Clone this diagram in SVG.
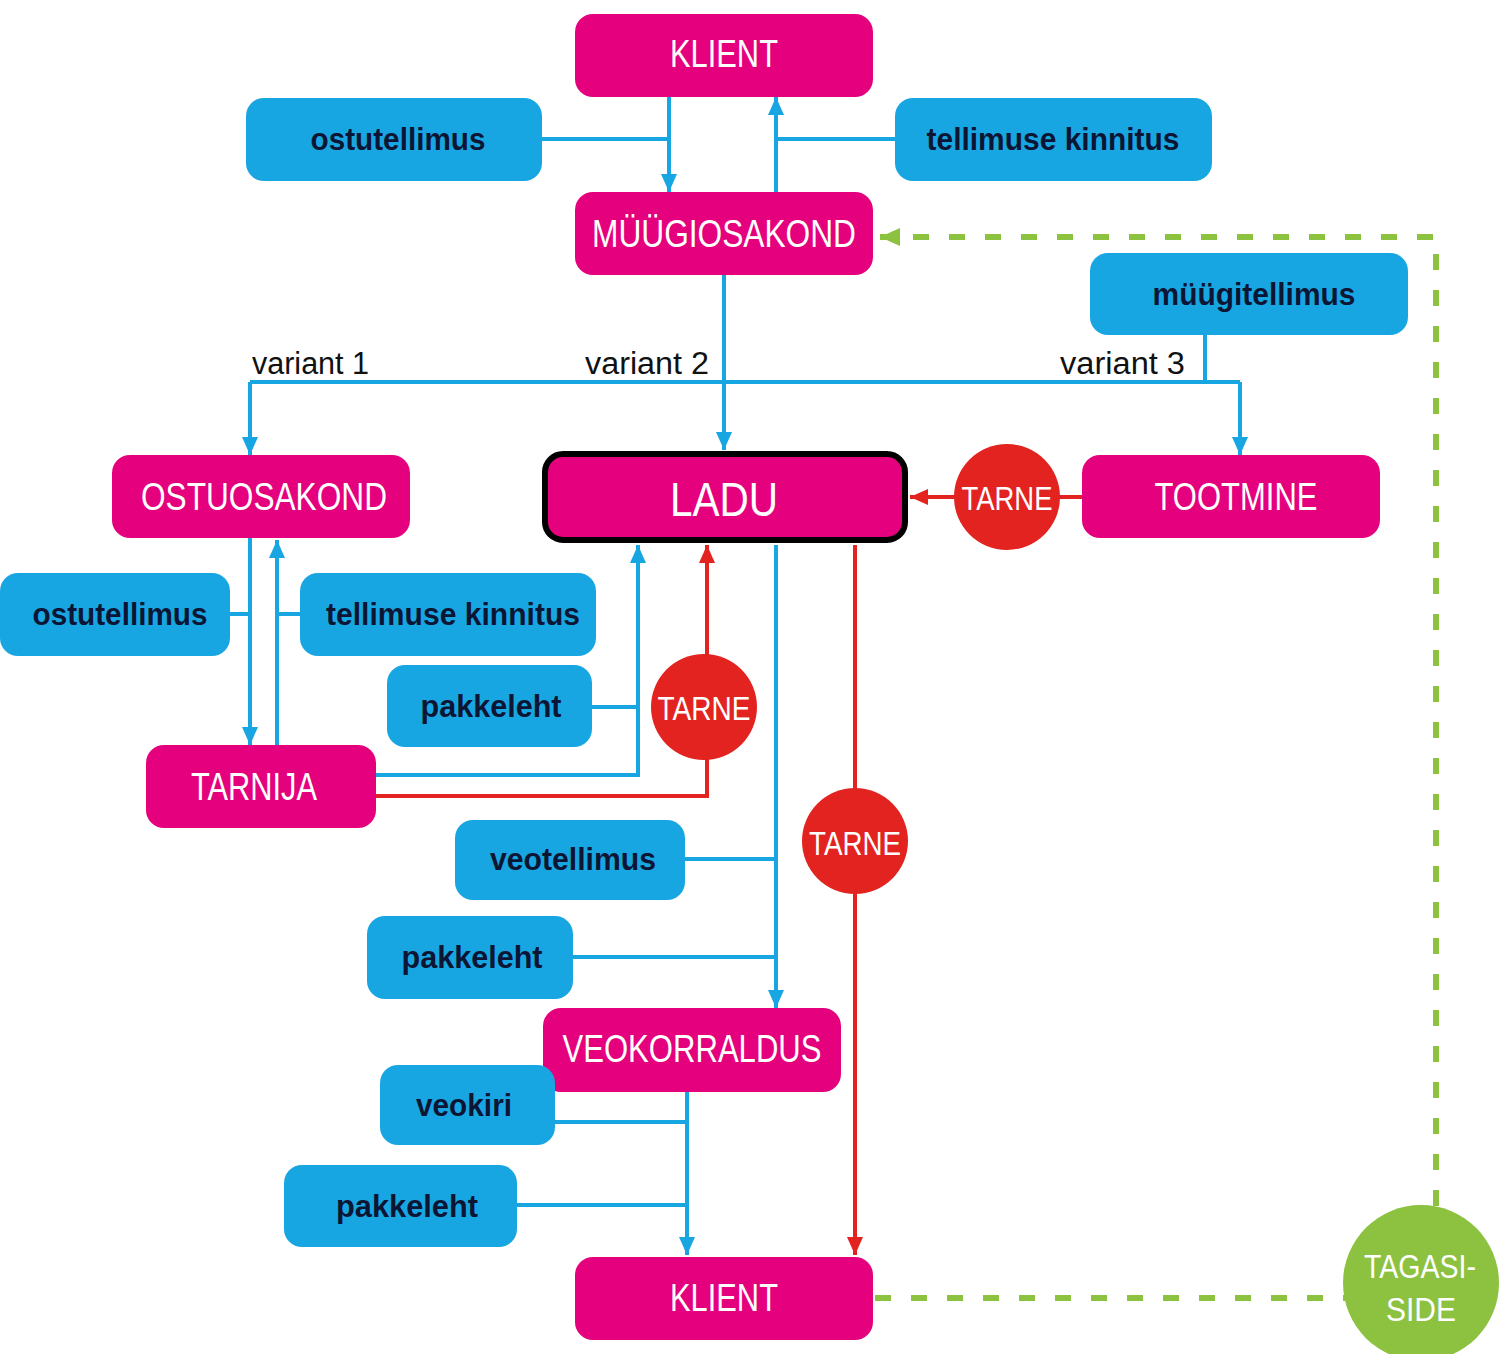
<svg xmlns="http://www.w3.org/2000/svg" width="1499" height="1354" viewBox="0 0 1499 1354">
<style>
.m{fill:#e5007d}
.b{fill:#18a6e2}
.mt{fill:#fff;font-family:"Liberation Sans Narrow","Liberation Sans",Arial,sans-serif;font-size:38px;text-anchor:middle}
.bt{fill:#0c1634;font-family:"Liberation Sans Narrow","Liberation Sans",Arial,sans-serif;font-size:31px;font-weight:bold;text-anchor:middle}
.vt{fill:#111;font-family:"Liberation Sans Narrow","Liberation Sans",Arial,sans-serif;font-size:31px;text-anchor:start}
.ct{fill:#fff;font-family:"Liberation Sans Narrow","Liberation Sans",Arial,sans-serif;font-size:33px;text-anchor:middle}
.cb{fill:none;stroke:#18a6e2;stroke-width:4}
.cr{fill:none;stroke:#e3231f;stroke-width:4}
.cg{fill:none;stroke:#8cc23f;stroke-width:6;stroke-dasharray:16 20}
</style>
<defs>
<marker id="ab" markerUnits="userSpaceOnUse" markerWidth="18" markerHeight="16" refX="18" refY="8" orient="auto"><path d="M0,0 L18,8 L0,16 z" fill="#18a6e2"/></marker>
<marker id="ar" markerUnits="userSpaceOnUse" markerWidth="18" markerHeight="16" refX="18" refY="8" orient="auto"><path d="M0,0 L18,8 L0,16 z" fill="#e3231f"/></marker>
<marker id="ag" markerUnits="userSpaceOnUse" markerWidth="20" markerHeight="18" refX="20" refY="9" orient="auto"><path d="M0,0 L20,9 L0,18 z" fill="#8cc23f"/></marker>
</defs>
<rect width="1499" height="1354" fill="#fff"/>
<g id="connectors">
<path class="cb" d="M669 97 V192" marker-end="url(#ab)"/>
<path class="cb" d="M776 192 V97" marker-end="url(#ab)"/>
<path class="cb" d="M542 139 H669"/>
<path class="cb" d="M895 139 H776"/>
<path class="cb" d="M724 275 V450" marker-end="url(#ab)"/>
<path class="cb" d="M250 382 H1240"/>
<path class="cb" d="M250 382 V455" marker-end="url(#ab)"/>
<path class="cb" d="M1240 382 V455" marker-end="url(#ab)"/>
<path class="cb" d="M1205 335 V382"/>
<path class="cb" d="M250 538 V745" marker-end="url(#ab)"/>
<path class="cb" d="M277 745 V540" marker-end="url(#ab)"/>
<path class="cb" d="M230 614 H250"/>
<path class="cb" d="M300 614 H277"/>
<path class="cb" d="M376 775 H638 V545" marker-end="url(#ab)"/>
<path class="cb" d="M592 707 H638"/>
<path class="cb" d="M776 545 V1008" marker-end="url(#ab)"/>
<path class="cb" d="M685 859 H776"/>
<path class="cb" d="M573 957 H776"/>
<path class="cb" d="M687 1092 V1255" marker-end="url(#ab)"/>
<path class="cb" d="M555 1122 H687"/>
<path class="cb" d="M517 1205 H687"/>
<path class="cr" d="M1082 497 H910" marker-end="url(#ar)"/>
<path class="cr" d="M376 796 H707 V545" marker-end="url(#ar)"/>
<path class="cr" d="M855 545 V1255" marker-end="url(#ar)"/>
<path class="cg" d="M875 1298 H1345"/>
<path class="cg" d="M1436 1206 V237 H880" marker-end="url(#ag)"/>
</g>
<g id="klient-top"><rect class="m" x="575" y="14" width="298" height="83" rx="18"/><text class="mt" x="724" y="67" textLength="108" lengthAdjust="spacingAndGlyphs">KLIENT</text></g>
<g id="ostutellimus-top"><rect class="b" x="246" y="98" width="296" height="83" rx="18"/><text class="bt" x="398" y="150" textLength="175" lengthAdjust="spacingAndGlyphs">ostutellimus</text></g>
<g id="kinnitus-top"><rect class="b" x="895" y="98" width="317" height="83" rx="18"/><text class="bt" x="1053" y="150" textLength="253" lengthAdjust="spacingAndGlyphs">tellimuse kinnitus</text></g>
<g id="myygiosakond"><rect class="m" x="575" y="192" width="298" height="83" rx="18"/><text class="mt" x="724" y="247" textLength="264" lengthAdjust="spacingAndGlyphs">MÜÜGIOSAKOND</text></g>
<g id="myygitellimus"><rect class="b" x="1090" y="253" width="318" height="82" rx="18"/><text class="bt" x="1254" y="305" textLength="203" lengthAdjust="spacingAndGlyphs">müügitellimus</text></g>
<g id="labels">
<text class="vt" x="252" y="374" textLength="117" lengthAdjust="spacingAndGlyphs">variant 1</text>
<text class="vt" x="585" y="374" textLength="124" lengthAdjust="spacingAndGlyphs">variant 2</text>
<text class="vt" x="1060" y="374" textLength="125" lengthAdjust="spacingAndGlyphs">variant 3</text>
</g>
<g id="ostuosakond"><rect class="m" x="112" y="455" width="298" height="83" rx="18"/><text class="mt" x="264" y="510" textLength="246" lengthAdjust="spacingAndGlyphs">OSTUOSAKOND</text></g>
<g id="ladu"><rect class="m" x="545" y="454" width="360" height="86" rx="18" stroke="#000" stroke-width="6"/><text class="mt" x="724" y="516" style="font-size:48px" textLength="108" lengthAdjust="spacingAndGlyphs">LADU</text></g>
<g id="tarne-1"><circle cx="1007" cy="497" r="53" fill="#e3231f"/><text class="ct" x="1007" y="510" textLength="91" lengthAdjust="spacingAndGlyphs">TARNE</text></g>
<g id="tootmine"><rect class="m" x="1082" y="455" width="298" height="83" rx="18"/><text class="mt" x="1236" y="510" textLength="163" lengthAdjust="spacingAndGlyphs">TOOTMINE</text></g>
<g id="ostutellimus-left"><rect class="b" x="0" y="573" width="230" height="83" rx="18"/><text class="bt" x="120" y="625" textLength="175" lengthAdjust="spacingAndGlyphs">ostutellimus</text></g>
<g id="kinnitus-mid"><rect class="b" x="300" y="573" width="296" height="83" rx="18"/><text class="bt" x="453" y="625" textLength="254" lengthAdjust="spacingAndGlyphs">tellimuse kinnitus</text></g>
<g id="pakkeleht-1"><rect class="b" x="387" y="665" width="205" height="82" rx="18"/><text class="bt" x="491" y="717" textLength="141" lengthAdjust="spacingAndGlyphs">pakkeleht</text></g>
<g id="tarne-2"><circle cx="704" cy="707" r="53" fill="#e3231f"/><text class="ct" x="704" y="720" textLength="93" lengthAdjust="spacingAndGlyphs">TARNE</text></g>
<g id="tarnija"><rect class="m" x="146" y="745" width="230" height="83" rx="18"/><text class="mt" x="254" y="800" textLength="126" lengthAdjust="spacingAndGlyphs">TARNIJA</text></g>
<g id="veotellimus"><rect class="b" x="455" y="820" width="230" height="80" rx="18"/><text class="bt" x="573" y="870" textLength="166" lengthAdjust="spacingAndGlyphs">veotellimus</text></g>
<g id="tarne-3"><circle cx="855" cy="841" r="53" fill="#e3231f"/><text class="ct" x="855" y="855" textLength="92" lengthAdjust="spacingAndGlyphs">TARNE</text></g>
<g id="pakkeleht-2"><rect class="b" x="367" y="916" width="206" height="83" rx="18"/><text class="bt" x="472" y="968" textLength="141" lengthAdjust="spacingAndGlyphs">pakkeleht</text></g>
<g id="veokorraldus"><rect class="m" x="543" y="1008" width="298" height="84" rx="18"/><text class="mt" x="692" y="1062" textLength="259" lengthAdjust="spacingAndGlyphs">VEOKORRALDUS</text></g>
<g id="veokiri"><rect class="b" x="380" y="1065" width="175" height="80" rx="18"/><text class="bt" x="464" y="1116" textLength="96" lengthAdjust="spacingAndGlyphs">veokiri</text></g>
<g id="pakkeleht-3"><rect class="b" x="284" y="1165" width="233" height="82" rx="18"/><text class="bt" x="407" y="1217" textLength="142" lengthAdjust="spacingAndGlyphs">pakkeleht</text></g>
<g id="klient-bottom"><rect class="m" x="575" y="1257" width="298" height="83" rx="18"/><text class="mt" x="724" y="1311" textLength="108" lengthAdjust="spacingAndGlyphs">KLIENT</text></g>
<g id="tagasiside"><circle cx="1421" cy="1283" r="78" fill="#8cc23f"/><text class="mt" x="1420" y="1278" style="font-size:34px" textLength="112" lengthAdjust="spacingAndGlyphs">TAGASI-</text><text class="mt" x="1421" y="1321" style="font-size:34px" textLength="70" lengthAdjust="spacingAndGlyphs">SIDE</text></g>
</svg>
